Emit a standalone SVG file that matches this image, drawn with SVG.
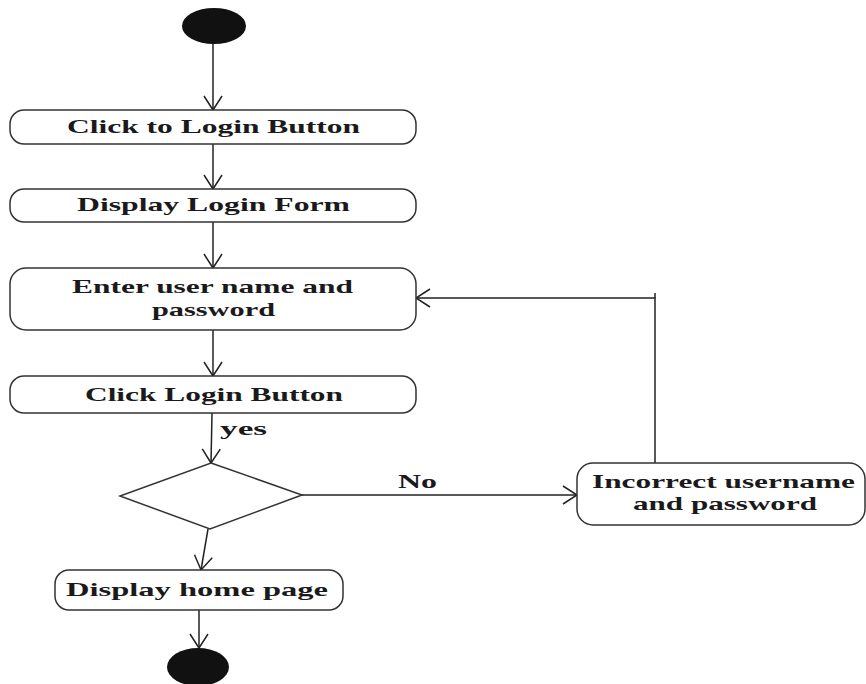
<svg xmlns="http://www.w3.org/2000/svg" width="866" height="684" viewBox="0 0 866 684">
<style>
.box{fill:#fff;stroke:#333;stroke-width:1.5}
.dot{fill:#111}
.lbl{font-family:"Liberation Serif","Times New Roman",serif;font-weight:bold;font-size:19px;fill:#1a1a1a;text-anchor:start}
.ln{fill:none;stroke:#222;stroke-width:1.5}
</style>
<defs>
<marker id="arr" markerUnits="userSpaceOnUse" markerWidth="30" markerHeight="30" refX="15" refY="10" orient="auto" viewBox="0 0 30 20">
<path d="M1,1 L15,10 L1,19" fill="none" stroke="#222" stroke-width="1.5"/>
</marker>
</defs>
<rect width="866" height="684" fill="#fff"/>
<g id="connectors">
<line class="ln" x1="213" y1="43" x2="213" y2="110" marker-end="url(#arr)"/>
<line class="ln" x1="213" y1="144" x2="213" y2="189" marker-end="url(#arr)"/>
<line class="ln" x1="213" y1="222" x2="213" y2="268" marker-end="url(#arr)"/>
<line class="ln" x1="213" y1="330" x2="213" y2="376" marker-end="url(#arr)"/>
<line class="ln" x1="212" y1="413" x2="211" y2="463" marker-end="url(#arr)"/>
<line class="ln" x1="208" y1="529" x2="201" y2="570" marker-end="url(#arr)"/>
<line class="ln" x1="199" y1="610" x2="199" y2="648" marker-end="url(#arr)"/>
<line class="ln" x1="302" y1="495" x2="577" y2="495" marker-end="url(#arr)"/>
<polyline class="ln" points="655,463 655,298 416,298" marker-end="url(#arr)"/>
<line class="ln" x1="655" y1="298" x2="655" y2="293"/>
<text class="lbl" x="220" y="435" textLength="47" lengthAdjust="spacingAndGlyphs">yes</text>
<text class="lbl" x="398" y="488" textLength="39" lengthAdjust="spacingAndGlyphs">No</text>
</g>
<g id="start"><ellipse class="dot" cx="214" cy="26" rx="32" ry="18"/></g>
<g id="n1">
<rect class="box" x="10" y="110" width="406" height="34" rx="14"/>
<text class="lbl" x="67" y="133" textLength="293" lengthAdjust="spacingAndGlyphs">Click to Login Button</text>
</g>
<g id="n2">
<rect class="box" x="10" y="189" width="406" height="33" rx="14"/>
<text class="lbl" x="77" y="211" textLength="273" lengthAdjust="spacingAndGlyphs">Display Login Form</text>
</g>
<g id="n3">
<rect class="box" x="10" y="268" width="406" height="62" rx="16"/>
<text class="lbl" x="72" y="293" textLength="281" lengthAdjust="spacingAndGlyphs">Enter user name and</text>
<text class="lbl" x="152" y="316" textLength="123" lengthAdjust="spacingAndGlyphs">password</text>
</g>
<g id="n4">
<rect class="box" x="10" y="376" width="406" height="37" rx="14"/>
<text class="lbl" x="85" y="401" textLength="258" lengthAdjust="spacingAndGlyphs">Click Login Button</text>
</g>
<g id="decision">
<polygon class="box" points="211,463 302,495 210,529 120,496"/>
</g>
<g id="n5">
<rect class="box" x="55" y="570" width="288" height="40" rx="14"/>
<text class="lbl" x="66" y="596" textLength="262" lengthAdjust="spacingAndGlyphs">Display home page</text>
</g>
<g id="n6">
<rect class="box" x="577" y="463" width="288" height="62" rx="16"/>
<text class="lbl" x="592" y="488" textLength="263" lengthAdjust="spacingAndGlyphs">Incorrect username</text>
<text class="lbl" x="633" y="510" textLength="184" lengthAdjust="spacingAndGlyphs">and password</text>
</g>
<g id="end"><ellipse class="dot" cx="198" cy="667" rx="31" ry="19"/></g>
</svg>
